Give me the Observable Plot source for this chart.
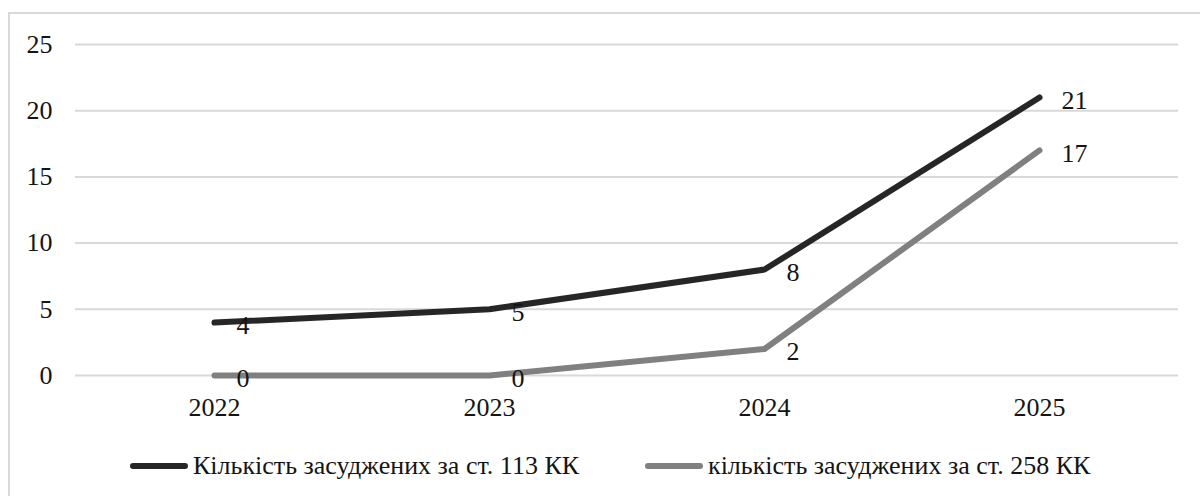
<!DOCTYPE html>
<html>
<head>
<meta charset="utf-8">
<script src="https://cdn.jsdelivr.net/npm/d3@7"></script>
<script src="https://cdn.jsdelivr.net/npm/@observablehq/plot@0.6"></script>
<style>
  html, body { margin: 0; padding: 0; background: #fff; }
  #wrap { position: relative; width: 1200px; height: 496px; overflow: hidden; font-family: "Liberation Serif", "Times New Roman", serif; }
  #frame { position: absolute; left: 8px; top: 12px; width: 1200px; height: 500px; border-left: 2px solid #d9d9d9; border-top: 2px solid #d9d9d9; box-sizing: border-box; }
  #chart { position: absolute; left: 0; top: 0; }
  #legend { position: absolute; left: 0; top: 448px; width: 1200px; height: 36px; font-size: 26px; color: #141414; }
  .item { position: absolute; top: 0; display: flex; align-items: center; height: 36px; white-space: nowrap; }
  .sw { width: 58px; height: 6px; border-radius: 3px; margin-right: 5px; }
</style>
</head>
<body>
<div id="wrap">
  <div id="frame"></div>
  <div id="chart"></div>
  <div id="legend"></div>
</div>
<script>
const years = ["2022", "2023", "2024", "2025"];
const seriesNames = ["Кількість засуджених за ст. 113 КК", "кількість засуджених за ст. 258 КК"];
const values113 = [4, 5, 8, 21];
const values258 = [0, 0, 2, 17];
const yTicks = [0, 5, 10, 15, 20, 25];
const colors = ["#262626", "#808080"];

const rows = [];
years.forEach((y, i) => rows.push({year: y, value: values113[i], series: seriesNames[0]}));
years.forEach((y, i) => rows.push({year: y, value: values258[i], series: seriesNames[1]}));

const chart = Plot.plot({
  width: 1200,
  height: 430,
  marginLeft: 75,
  marginRight: 22,
  marginTop: 44,
  marginBottom: 55,
  style: {fontFamily: "'Liberation Serif', 'Times New Roman', serif", fontSize: "26px", color: "#141414", background: "transparent"},
  x: {type: "point", domain: years, padding: 0.5, label: null, tickSize: 0, tickPadding: 22},
  y: {domain: [0, 25], ticks: yTicks, label: null, tickSize: 0, tickPadding: 23},
  color: {domain: seriesNames, range: colors},
  marks: [
    Plot.gridY(yTicks, {stroke: "#d9d9d9", strokeOpacity: 1, strokeWidth: 2}),
    Plot.line(rows, {x: "year", y: "value", z: "series", stroke: "series", strokeWidth: 6, strokeLinecap: "round", strokeLinejoin: "round"}),
    Plot.text(rows, {x: "year", y: "value", text: d => String(d.value), dx: 22, dy: 3, textAnchor: "start", fill: "#141414", fontSize: 26})
  ]
});
document.getElementById("chart").appendChild(chart);

const legend = document.getElementById("legend");
const lefts = [130, 645];
seriesNames.forEach((name, i) => {
  const it = document.createElement("div");
  it.className = "item";
  it.style.left = lefts[i] + "px";
  const sw = document.createElement("div");
  sw.className = "sw";
  sw.style.background = colors[i];
  const tx = document.createElement("span");
  tx.textContent = name;
  it.appendChild(sw);
  it.appendChild(tx);
  legend.appendChild(it);
});
</script>
</body>
</html>
